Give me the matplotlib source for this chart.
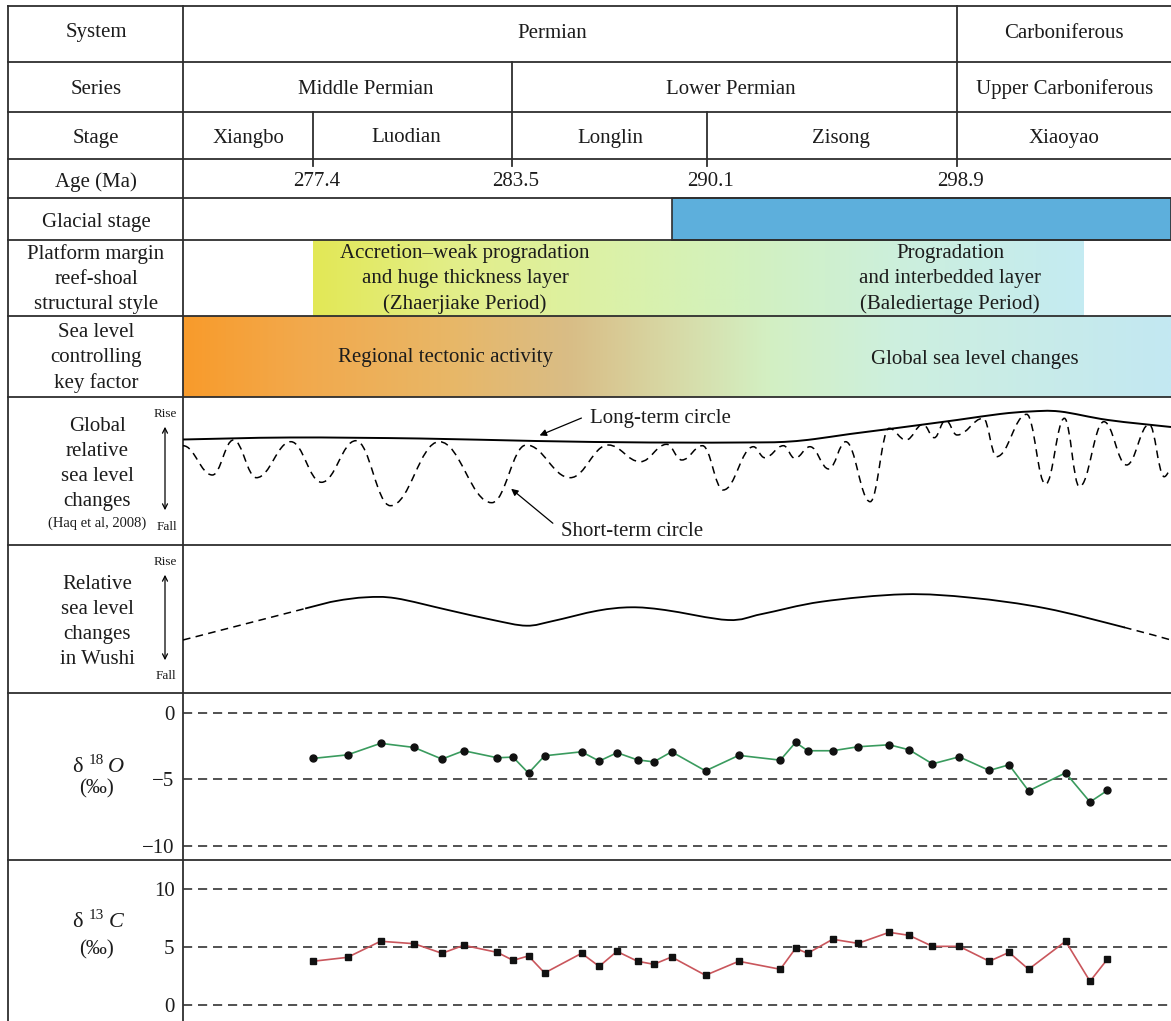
import numpy as np
import matplotlib
matplotlib.use("Agg")
import matplotlib.pyplot as plt
from matplotlib.path import Path
from matplotlib.patches import PathPatch, Rectangle
from matplotlib.colors import LinearSegmentedColormap

plt.rcParams["font.family"] = ["Liberation Serif", "DejaVu Serif"]

W, H = 1171, 1021
INK = "#1c1c1c"
LINE = "#2e2e2e"
FS = 15

# ---------------- table content ----------------
systems = ["Permian", "Carboniferous"]
series = ["Middle Permian", "Lower Permian", "Upper Carboniferous"]
stages = ["Xiangbo", "Luodian", "Longlin", "Zisong", "Xiaoyao"]
ages = ["277.4", "283.5", "290.1", "298.9"]
row_titles = ["System", "Series", "Stage", "Age (Ma)", "Glacial stage",
              "Platform margin\nreef-shoal\nstructural style",
              "Sea level\ncontrolling\nkey factor"]
styles = ["Accretion\u2013weak progradation\nand huge thickness layer\n(Zhaerjiake Period)",
          "Progradation\nand interbedded layer\n(Balediertage Period)"]
factors = ["Regional tectonic activity", "Global sea level changes"]

# ---------------- curves (position along section, relative level) ----------------
long_pos = [183, 290, 420, 536, 650, 760, 790, 815, 850, 893, 957, 1000, 1030, 1060, 1108, 1171]
long_lvl = [105.5, 107.5, 106.5, 104, 102.5, 102.6, 103.5, 106, 111, 116.5, 125, 131, 133.5,
            133.5, 125, 118]

short_pos = [183, 212.4, 233.4, 256.4, 290.9, 321.5, 355.9, 390.4, 439.3, 491.8, 526.2,
             570.2, 608.3, 640.3, 666.7, 681.8, 702.5, 723.2, 753.4, 764.7, 783.5, 794.8,
             810, 828.8, 845.7, 870.2, 889.1, 906, 923, 934.3, 945.6, 957, 983.3, 996.5,
             1026.7, 1045.5, 1064.4, 1079.4, 1103.9, 1126.6, 1149.2, 1164.2, 1171]
short_lvl = [99.3, 70.0, 105.0, 67.3, 103.3, 62.7, 104.3, 39.3, 103.3, 42.3, 100.0,
             67.3, 100.0, 83.3, 100.7, 85.0, 99.3, 55.0, 98.3, 87.3, 99.3, 86.7,
             98.3, 76.0, 103.3, 43.3, 116.7, 105.0, 120.7, 107.3, 125.0, 110.0, 126.7, 88.3,
             130.7, 60.7, 126.7, 58.3, 123.3, 80.0, 120.7, 68.3, 75.0]

wushi_pos = [183, 306, 336, 366, 396, 448, 493, 526.5, 553, 597.5, 631, 665, 728, 762,
             821.5, 903.7, 971, 1045.6, 1124, 1171]
wushi_lvl = [53, 84.7, 92, 95.7, 94.7, 83, 73, 67.3, 72, 82.3, 85.7, 83, 73, 79,
             91.3, 98.7, 95.3, 84.7, 65.7, 53]

# ---------------- isotopes ----------------
sample_pos = [313, 347.5, 380.6, 414, 442, 463.7, 497.3, 513, 528.5, 544.6, 581.6, 599.2,
              617, 637.5, 653.8, 671.6, 705.5, 738.8, 780.3, 795.6, 807.6, 832.7, 858,
              889.2, 909.2, 932.4, 959.2, 989.3, 1009, 1028.6, 1065.6, 1090, 1107.3]
d18o = [-3.41, -3.14, -2.27, -2.58, -3.46, -2.83, -3.36, -3.31, -4.52, -3.21, -2.91, -3.61,
        -2.98, -3.52, -3.67, -2.91, -4.35, -3.18, -3.54, -2.20, -2.83, -2.83, -2.53,
        -2.38, -2.76, -3.82, -3.29, -4.32, -3.89, -5.86, -4.50, -6.70, -5.83]
d13c = [3.78, 4.12, 5.51, 5.30, 4.47, 5.16, 4.55, 3.86, 4.24, 2.77, 4.47, 3.34,
        4.64, 3.78, 3.52, 4.15, 2.57, 3.78, 3.09, 4.90, 4.47, 5.68, 5.33,
        6.28, 6.02, 5.07, 5.07, 3.78, 4.55, 3.09, 5.51, 2.05, 3.95]

# ---------------- layout (pixels) ----------------
LEFT, COL, TOP = 8, 183, 6
rows = [6, 62, 112, 159, 198, 240, 316, 397, 545, 693, 860, 1021]
system_edges = [183, 957, 1171]
series_edges = [183, 512, 957, 1171]
stage_edges = [183, 313, 512, 707, 957, 1171]

fig = plt.figure(figsize=(W / 100, H / 100), dpi=100)
base = fig.add_axes([0, 0, 1, 1])
base.axis("off")


def label(x, y, s, size=FS, **kw):
    base.text(x, y + 2, s, ha="center", va="center", fontsize=size, color=INK,
              linespacing=1.42, **kw)


def gradient(x0, x1, y0, y1, stops):
    cmap = LinearSegmentedColormap.from_list(
        "g", [((p - x0) / (x1 - x0), c) for p, c in stops])
    base.imshow(np.linspace(0, 1, 512)[None, :], cmap=cmap, aspect="auto",
                extent=(x0, x1, y1, y0), interpolation="bilinear", zorder=0)


# coloured bands
base.add_patch(Rectangle((672, 198), W - 672, 42, facecolor="#5dafdc",
                         edgecolor=LINE, lw=1.2, zorder=1))
gradient(313, 1084, 240, 316, [(313, "#e2e856"), (450, "#e3ee88"), (600, "#dcf1a6"),
                               (750, "#d2f1c0"), (900, "#ccefdc"), (1084, "#c4ebf2")])
gradient(183, W, 316, 397, [(183, "#f89b2b"), (300, "#f2a94c"), (450, "#e8b767"),
                            (570, "#d9bd86"), (680, "#d7dba8"), (770, "#d3f0c3"),
                            (900, "#cdefdf"), (W, "#c3e8f2")])

# grid lines
for y in rows[:-1]:
    base.plot([LEFT, W], [y, y], color=LINE, lw=1.3, zorder=2)
base.plot([LEFT, LEFT], [TOP, H], color=LINE, lw=1.3, zorder=2)
base.plot([COL, COL], [TOP, H], color=LINE, lw=1.3, zorder=2)
for x in system_edges[1:-1]:
    base.plot([x, x], [rows[0], rows[1]], color=LINE, lw=1.3)
for x in series_edges[1:-1]:
    base.plot([x, x], [rows[1], rows[2]], color=LINE, lw=1.3)
for x in stage_edges[1:-1]:
    base.plot([x, x], [rows[2], rows[3] + 7], color=LINE, lw=1.3)

# row titles
title_y = [31, 87, 136, 180, 220, 277, 356]
for t, y in zip(row_titles, title_y):
    label(96, y, t)

label(552, 31, systems[0])
label(1064, 31, systems[1])
for t, x in zip(series, [366, 731, 1065]):
    label(x, 87, t)
for t, x in zip(stages, [248, 406, 610, 841, 1064]):
    label(x, 136, t)
for t, x in zip(ages, stage_edges[1:-1]):
    label(x + 4, 180, t)
label(465, 277, styles[0])
label(950, 277, styles[1])
label(446, 355, factors[0])
label(975, 357, factors[1])

# ---------------- global sea level ----------------
def panel(y0, y1):
    a = fig.add_axes([COL / W, 1 - y1 / H, (W - COL) / W, (y1 - y0) / H])
    a.set_xlim(COL, W)
    a.patch.set_alpha(0)
    return a


def wave_path(xs, ys, k=0.4):
    verts, codes = [(xs[0], ys[0])], [Path.MOVETO]
    for i in range(len(xs) - 1):
        dx = xs[i + 1] - xs[i]
        verts += [(xs[i] + k * dx, ys[i]), (xs[i + 1] - k * dx, ys[i + 1]), (xs[i + 1], ys[i + 1])]
        codes += [Path.CURVE4] * 3
    return Path(verts, codes)


def smooth_path(xs, ys):
    p = np.column_stack([xs, ys]).astype(float)
    n = len(p)
    verts, codes = [tuple(p[0])], [Path.MOVETO]
    for i in range(n - 1):
        p0, p1, p2, p3 = p[max(i - 1, 0)], p[i], p[i + 1], p[min(i + 2, n - 1)]
        verts += [tuple(p1 + (p2 - p0) / 6), tuple(p2 - (p3 - p1) / 6), tuple(p2)]
        codes += [Path.CURVE4] * 3
    return Path(verts, codes)


ag = panel(rows[7], rows[8])
ag.set_ylim(0, rows[8] - rows[7])
ag.axis("off")
ag.add_patch(PathPatch(smooth_path(long_pos, long_lvl), fill=False, lw=1.4, color="black"))
ag.add_patch(PathPatch(wave_path(short_pos, short_lvl), fill=False, lw=1.1, color="black",
                       linestyle=(0, (5, 3.5))))

base.annotate("", xy=(537, 436.5), xytext=(584, 417),
              arrowprops=dict(arrowstyle="-|>", color="black", lw=0.9, mutation_scale=10))
base.text(590, 418, "Long-term circle", fontsize=FS, color=INK, va="center")
base.annotate("", xy=(509, 487), xytext=(555, 525),
              arrowprops=dict(arrowstyle="-|>", color="black", lw=0.9, mutation_scale=10))
base.text(561, 531, "Short-term circle", fontsize=FS, color=INK, va="center")

label(97, 462, "Global\nrelative\nsea level\nchanges")
label(97, 521, "(Haq et al, 2008)", size=10.5)
label(165, 412, "Rise", size=9.5)
label(167, 525, "Fall", size=9.5)
base.annotate("", xy=(165, 424), xytext=(165, 513),
              arrowprops=dict(arrowstyle="<->", color="black", lw=0.9, mutation_scale=9))

# ---------------- Wushi ----------------
aw = panel(rows[8], rows[9])
aw.set_ylim(0, rows[9] - rows[8])
aw.axis("off")
wp = smooth_path(wushi_pos, wushi_lvl)
segs = wp.to_polygons(closed_only=False)[0]
sx, sy = segs[:, 0], segs[:, 1]
solid = (sx >= wushi_pos[1]) & (sx <= wushi_pos[-2])
aw.plot(np.where(solid, sx, np.nan), np.where(solid, sy, np.nan), color="black", lw=1.3)
aw.plot(np.where(sx <= wushi_pos[1], sx, np.nan), np.where(sx <= wushi_pos[1], sy, np.nan),
        color="black", lw=1.1, linestyle=(0, (5, 3.5)))
aw.plot(np.where(sx >= wushi_pos[-2], sx, np.nan), np.where(sx >= wushi_pos[-2], sy, np.nan),
        color="black", lw=1.1, linestyle=(0, (5, 3.5)))

label(97, 620, "Relative\nsea level\nchanges\nin Wushi")
label(165, 560, "Rise", size=9.5)
label(166, 674, "Fall", size=9.5)
base.annotate("", xy=(165, 572), xytext=(165, 663),
              arrowprops=dict(arrowstyle="<->", color="black", lw=0.9, mutation_scale=9))


# ---------------- isotopes ----------------
def iso_axes(y0, y1, ylim, ticks):
    a = panel(y0, y1)
    a.set_ylim(*ylim)
    for s in a.spines.values():
        s.set_visible(False)
    a.set_xticks([])
    a.set_yticks(ticks)
    a.tick_params(axis="y", length=0, pad=6, labelsize=FS, labelcolor=INK)
    for t in ticks:
        a.axhline(t, color="#333333", lw=1.2, linestyle=(0, (5.5, 3.5)))
    return a


ao = iso_axes(rows[9], rows[10], (-11.08, 1.53), [0, -5, -10])
ao.plot(sample_pos, d18o, color="#3a9b5e", lw=1.2, marker="o", ms=5,
        mfc="#111111", mec="#111111", zorder=3)

ac = iso_axes(rows[10], rows[11], (-1.38, 12.53), [10, 5, 0])
ac.plot(sample_pos, d13c, color="#c9565c", lw=1.2, marker="s", ms=4.5,
        mfc="#111111", mec="#111111", zorder=3)

# isotope labels
base.text(77, 767, "\u03b4", fontsize=16, color=INK, ha="center", va="center")
base.text(96, 760, "18", fontsize=11, color=INK, ha="center", va="center")
base.text(116, 767, "O", fontsize=16, color=INK, ha="center", va="center", style="italic")
label(96, 787, "(\u2030)")
base.text(77, 922, "\u03b4", fontsize=16, color=INK, ha="center", va="center")
base.text(96, 915, "13", fontsize=11, color=INK, ha="center", va="center")
base.text(116, 922, "C", fontsize=16, color=INK, ha="center", va="center", style="italic")
label(96, 948, "(\u2030)")

base.set_xlim(0, W)
base.set_ylim(H, 0)
fig.savefig("out.png", dpi=100)
